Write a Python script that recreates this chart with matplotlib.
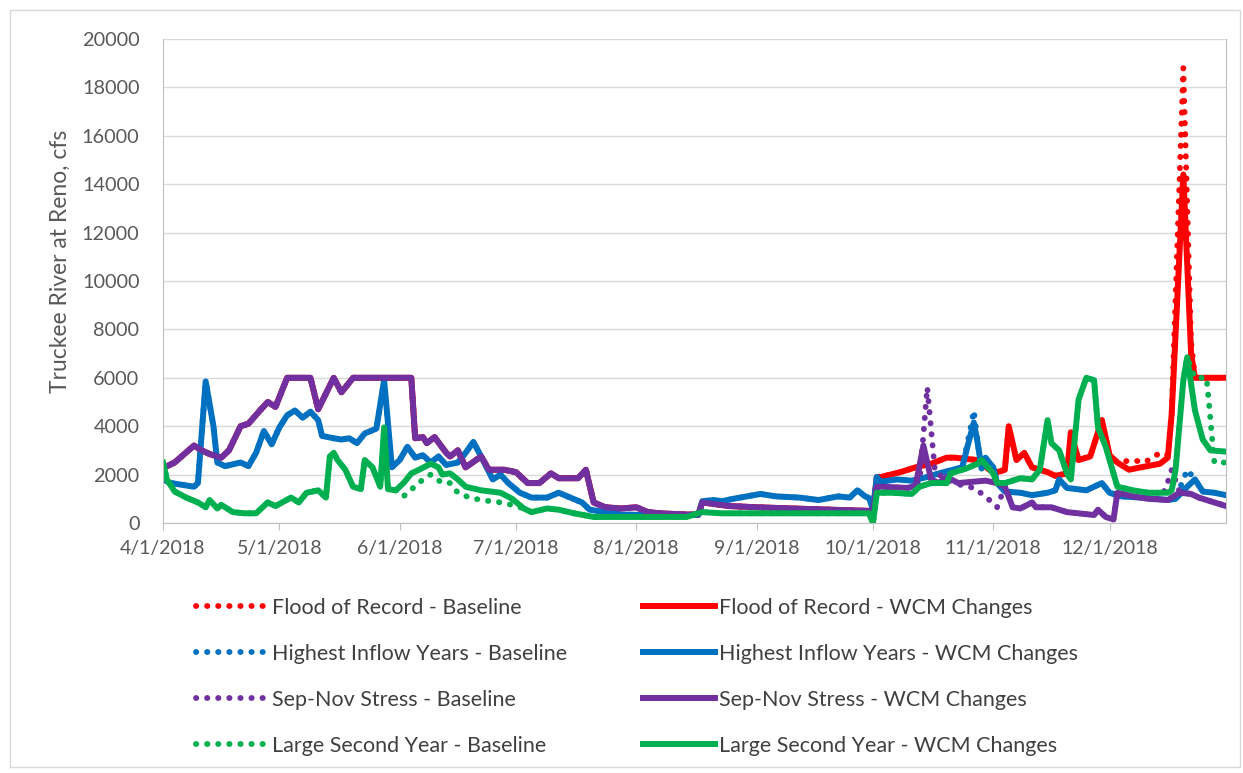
import numpy as np
import pandas as pd
import matplotlib
matplotlib.use("Agg")
import matplotlib.pyplot as plt
from matplotlib.patches import Rectangle

# ---- data (dates are 2018, values in cfs) ----
# Sep-Nov Stress - WCM Changes
sep_wcm_d = ["04-01", "04-04", "04-09", "04-11", "04-13", "04-16", "04-18", "04-21", "04-23", "04-26", "04-28", "04-30",
             "05-03", "05-09", "05-11", "05-15", "05-17", "05-20", "06-04", "06-05", "06-07", "06-08", "06-10", "06-13",
             "06-14", "06-16", "06-18", "06-22", "06-24", "06-28", "07-01", "07-04", "07-07", "07-10", "07-12", "07-17",
             "07-19", "07-21", "07-24", "07-28", "08-01", "08-04", "08-07", "08-14", "08-17", "08-18", "08-25", "09-01",
             "09-10", "09-20", "09-30", "10-01", "10-02", "10-03", "10-10", "10-12", "10-14", "10-16", "10-18", "10-20",
             "10-23", "10-30", "11-02", "11-04", "11-06", "11-08", "11-11", "11-12", "11-16", "11-20", "11-27", "11-28",
             "11-30", "12-02", "12-03", "12-07", "12-11", "12-16", "12-19", "12-22", "12-24", "12-28", "12-31"]
sep_wcm_v = [2270, 2500, 3200, 3000, 2850, 2700, 3000, 4000, 4100, 4650, 5000, 4800,
             6000, 6000, 4700, 6000, 5400, 6000, 6000, 3500, 3550, 3300, 3550, 2900,
             2750, 3000, 2300, 2750, 2200, 2200, 2100, 1650, 1650, 2050, 1850, 1850,
             2200, 850, 650, 600, 650, 450, 400, 350, 350, 850, 700, 650,
             600, 550, 500, 500, 1500, 1500, 1450, 1550, 3200, 1800, 1650, 1900,
             1650, 1750, 1650, 1500, 650, 600, 850, 650, 650, 450, 330, 550,
             250, 150, 1250, 1100, 1000, 950, 1250, 1200, 1050, 850, 700]
# Sep-Nov Stress - Baseline (where it differs from WCM run)
sep_base_oct_d = ["10-12", "10-13", "10-15", "10-17", "10-20", "10-24", "10-27", "10-30", "11-02"]
sep_base_oct_v = [1550, 1700, 5600, 2100, 1800, 1550, 1450, 1100, 650]
sep_base_dec_d = ["12-13", "12-15", "12-16", "12-17", "12-19"]
sep_base_dec_v = [1000, 1300, 1700, 2200, 1300]

# Flood of Record - WCM Changes (same as Sep-Nov run before October)
flood_wcm_d = ["10-01", "10-02", "10-03", "10-08", "10-12", "10-16", "10-20", "10-22", "10-25", "10-28", "10-31",
               "11-02", "11-04", "11-05", "11-07", "11-09", "11-11", "11-15", "11-17", "11-20", "11-21", "11-23",
               "11-26", "11-29", "12-01", "12-03", "12-06", "12-09", "12-14", "12-16", "12-17", "12-20", "12-22",
               "12-23", "12-31"]
flood_wcm_v = [500, 1900, 1900, 2100, 2300, 2450, 2700, 2700, 2650, 2600, 2200,
               2100, 2200, 4000, 2600, 2900, 2300, 2100, 1950, 2050, 3750, 2600,
               2750, 4250, 2800, 2500, 2200, 2300, 2450, 2700, 4500, 14400, 7000,
               6000, 6000]
flood_base_d = ["12-03", "12-07", "12-10", "12-14", "12-16", "12-17", "12-20", "12-22", "12-23"]
flood_base_v = [2500, 2600, 2500, 2900, 2800, 4600, 18800, 7500, 6000]

# Highest Inflow Years - WCM Changes
high_wcm_d = ["04-01", "04-03", "04-05", "04-09", "04-10", "04-12", "04-14", "04-15", "04-17", "04-21", "04-23",
              "04-25", "04-27", "04-29", "05-01", "05-03", "05-05", "05-07", "05-09", "05-11", "05-12", "05-15",
              "05-17", "05-19", "05-21", "05-23", "05-26", "05-28", "05-30", "06-01", "06-03", "06-05", "06-07",
              "06-09", "06-11", "06-13", "06-16", "06-18", "06-20", "06-22", "06-25", "06-27", "06-29", "07-02",
              "07-05", "07-09", "07-12", "07-15", "07-18", "07-20", "07-28", "08-05", "08-17", "08-18", "08-21",
              "08-23", "08-26", "09-02", "09-06", "09-12", "09-17", "09-22", "09-25", "09-27", "09-29", "09-30",
              "10-01", "10-02", "10-03", "10-07", "10-11", "10-15", "10-18", "10-24", "10-26", "10-27", "10-28",
              "10-29", "10-30", "11-01", "11-02", "11-04", "11-08", "11-11", "11-15", "11-17", "11-18", "11-20",
              "11-25", "11-29", "12-01", "12-04", "12-09", "12-13", "12-16", "12-18", "12-21", "12-23", "12-25",
              "12-28", "12-31"]
high_wcm_v = [1800, 1650, 1600, 1500, 1650, 5850, 4000, 2500, 2350, 2500, 2350,
              2900, 3800, 3250, 3950, 4450, 4650, 4350, 4600, 4250, 3600, 3500,
              3450, 3500, 3300, 3700, 3900, 5900, 2300, 2600, 3150, 2700, 2800,
              2500, 2750, 2400, 2500, 2900, 3350, 2750, 1800, 2000, 1650, 1250,
              1050, 1050, 1250, 1050, 850, 550, 350, 330, 330, 900, 950,
              900, 1000, 1200, 1100, 1050, 950, 1100, 1050, 1350, 1100, 1030,
              550, 1900, 1700, 1800, 1750, 1900, 2050, 2300, 3550, 4150, 3300,
              2250, 2700, 2300, 1650, 1300, 1250, 1150, 1250, 1350, 1800, 1450,
              1350, 1650, 1250, 1100, 1050, 1000, 950, 1000, 1500, 1800, 1300,
              1250, 1150]
high_base_oct_d = ["10-26", "10-27", "10-28"]
high_base_oct_v = [3800, 4650, 3300]
high_base_dec_d = ["12-18", "12-21", "12-23"]
high_base_dec_v = [1000, 2200, 1800]

# Large Second Year - WCM Changes
large_wcm_d = ["04-01", "04-02", "04-04", "04-07", "04-10", "04-12", "04-13", "04-15", "04-16", "04-19", "04-22",
               "04-25", "04-28", "04-30", "05-04", "05-06", "05-08", "05-11", "05-13", "05-14", "05-15", "05-16",
               "05-18", "05-20", "05-22", "05-23", "05-25", "05-27", "05-28", "05-29", "05-31", "06-02", "06-04",
               "06-06", "06-09", "06-11", "06-12", "06-14", "06-16", "06-18", "06-22", "06-27", "06-30", "07-03",
               "07-05", "07-09", "07-12", "07-16", "07-21", "08-14", "08-18", "08-23", "09-30", "10-01", "10-02",
               "10-06", "10-11", "10-13", "10-16", "10-20", "10-21", "10-25", "10-28", "10-29", "11-01", "11-02",
               "11-04", "11-08", "11-11", "11-13", "11-15", "11-16", "11-18", "11-20", "11-21", "11-23", "11-25",
               "11-27", "11-28", "11-30", "12-03", "12-07", "12-11", "12-16", "12-17", "12-18", "12-20", "12-21",
               "12-23", "12-25", "12-27", "12-31"]
large_wcm_v = [2500, 1800, 1300, 1050, 850, 650, 950, 600, 750, 450, 400,
               400, 850, 700, 1050, 850, 1250, 1350, 1050, 2750, 2900, 2600,
               2200, 1500, 1400, 2600, 2300, 1500, 3950, 1400, 1350, 1650, 2050,
               2200, 2450, 2300, 2000, 2050, 1800, 1500, 1350, 1250, 1000, 600,
               450, 600, 550, 400, 250, 250, 450, 400, 400, 0, 1250,
               1250, 1200, 1500, 1650, 1650, 2050, 2250, 2450, 2600, 2050, 1650,
               1650, 1850, 1800, 2200, 4250, 3300, 3000, 2050, 1800, 5100, 6000,
               5900, 3950, 3150, 1500, 1350, 1250, 1250, 1350, 2200, 5900, 6850,
               4650, 3450, 3000, 2950]
large_base_jun_d = ["05-31", "06-02", "06-07", "06-09", "06-12", "06-14", "06-16", "06-19", "06-22", "06-26", "06-28",
                    "07-03"]
large_base_jun_v = [1350, 1100, 1800, 2000, 1650, 1650, 1250, 1050, 950, 870, 830,
                    600]
large_base_dec_d = ["12-21", "12-23", "12-26", "12-28", "12-31"]
large_base_dec_v = [6850, 6000, 6000, 2500, 2500]

month_ticks = ["04-01", "05-01", "06-01", "07-01", "08-01", "09-01", "10-01", "11-01", "12-01"]
month_labels = ["4/1/2018", "5/1/2018", "6/1/2018", "7/1/2018", "8/1/2018",
                "9/1/2018", "10/1/2018", "11/1/2018", "12/1/2018"]


def to_dates(d):
    return pd.to_datetime(["2018-" + s for s in d])


def splice(base_d, base_v, *segs):
    # replace the base run by the segment values over the segment's date span
    dd = to_dates(base_d)
    vv = np.array(base_v, float)
    for seg_d, seg_v in segs:
        sd = to_dates(seg_d)
        keep = (dd < sd[0]) | (dd > sd[-1])
        dd = dd[keep].append(sd)
        vv = np.concatenate([vv[keep], np.array(seg_v, float)])
        order = np.argsort(dd.values)
        dd, vv = dd[order], vv[order]
    return list(dd.strftime("%m-%d")), list(vv)


flood_wcm = splice(sep_wcm_d, sep_wcm_v, (flood_wcm_d, flood_wcm_v))
flood_base = splice(*flood_wcm, (flood_base_d, flood_base_v))
high_base = splice(high_wcm_d, high_wcm_v, (high_base_oct_d, high_base_oct_v), (high_base_dec_d, high_base_dec_v))
sep_base = splice(sep_wcm_d, sep_wcm_v, (sep_base_oct_d, sep_base_oct_v), (sep_base_dec_d, sep_base_dec_v))
large_base = splice(large_wcm_d, large_wcm_v, (large_base_jun_d, large_base_jun_v), (large_base_dec_d, large_base_dec_v))

red, blue, purple, green = "#FF0000", "#0070C0", "#7030A0", "#00B050"
series = [
    ("Flood of Record - Baseline", flood_base, red, True),
    ("Flood of Record - WCM Changes", flood_wcm, red, False),
    ("Highest Inflow Years - Baseline", high_base, blue, True),
    ("Highest Inflow Years - WCM Changes", (high_wcm_d, high_wcm_v), blue, False),
    ("Sep-Nov Stress - Baseline", sep_base, purple, True),
    ("Sep-Nov Stress - WCM Changes", (sep_wcm_d, sep_wcm_v), purple, False),
    ("Large Second Year - Baseline", large_base, green, True),
    ("Large Second Year - WCM Changes", (large_wcm_d, large_wcm_v), green, False),
]

plt.rcParams["font.family"] = ["Lato", "DejaVu Sans"]
txt = "#595959"

fig = plt.figure(figsize=(12.43, 7.73), dpi=100)
ax = fig.add_axes([163 / 1243, 1 - 523 / 773, (1226 - 163) / 1243, (523 - 39) / 773])

lines = {}
for name, (d, v), col, dotted in series:
    if dotted:
        ln, = ax.plot(to_dates(d), v, color=col, lw=4.2, linestyle=(0, (0.05, 1.85)),
                      dash_capstyle="round", solid_capstyle="round")
    else:
        ln, = ax.plot(to_dates(d), v, color=col, lw=4.3, solid_joinstyle="round")
    lines[name] = ln

ax.set_xlim(pd.Timestamp("2018-04-01"), pd.Timestamp("2018-12-31"))
ax.set_ylim(0, 20000)
ax.set_yticks(np.arange(0, 20001, 2000))
ax.set_xticks(to_dates(month_ticks))
ax.set_xticklabels(month_labels)
ax.grid(axis="y", color="#d9d9d9", lw=1)
ax.set_axisbelow(True)
ax.spines["top"].set_visible(False)
for s in ["left", "bottom", "right"]:
    ax.spines[s].set_color("#bfbfbf")
ax.tick_params(axis="y", length=0, pad=17, labelsize=14.3, labelcolor=txt)
ax.tick_params(axis="x", length=5, color="#bfbfbf", pad=7, labelsize=14, labelcolor=txt)
ax.set_ylabel("Truckee River at Reno, cfs", fontsize=16.5, color=txt)
ax.yaxis.set_label_coords(-0.087, 0.54)

order = [n for n, _, _, dot in series if dot] + [n for n, _, _, dot in series if not dot]
fig.legend([lines[n] for n in order], order, ncol=2, loc="upper left",
           bbox_to_anchor=(196 / 1243, 1 - 598 / 773), frameon=False, fontsize=15.5,
           labelcolor="#404040", handlelength=3.35, handletextpad=0.2, columnspacing=3.5,
           labelspacing=1.2, borderaxespad=0, borderpad=0)

fig.add_artist(Rectangle((10 / 1243, 6 / 773), 1230 / 1243, 757 / 773, transform=fig.transFigure,
                         fill=False, edgecolor="#d9d9d9", lw=1))

fig.savefig("out.png", dpi=100)
